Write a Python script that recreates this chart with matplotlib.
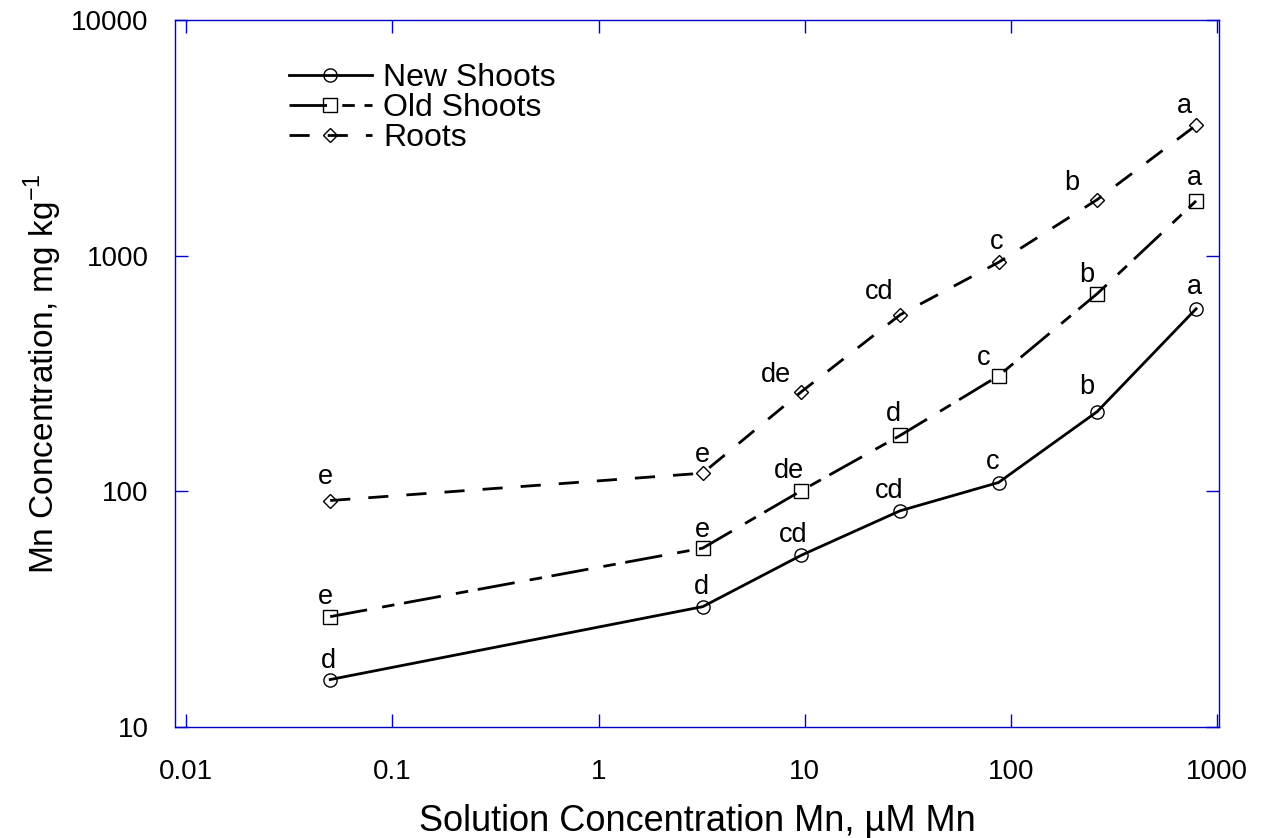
import matplotlib
matplotlib.use("Agg")
import matplotlib.pyplot as plt

plt.rcParams['font.family'] = ['Liberation Sans', 'DejaVu Sans']
plt.rcParams['lines.scale_dashes'] = False

# Solution Mn levels (uM)
solution_mn = [0.05, 3.2, 9.6, 29, 87, 262, 790]

# Tissue Mn concentration (mg/kg)
new_shoots = [15.9, 32.4, 53.5, 82.7, 109, 218, 595]
old_shoots = [29.4, 57.4, 100.5, 172.6, 309, 690, 1707]
roots = [91.4, 119.4, 264, 561, 937, 1730, 3575]

# Mean-separation letters
new_letters = ['d', 'd', 'cd', 'cd', 'c', 'b', 'a']
old_letters = ['e', 'e', 'de', 'd', 'c', 'b', 'a']
root_letters = ['e', 'e', 'de', 'cd', 'c', 'b', 'a']

x_ticks = [0.01, 0.1, 1, 10, 100, 1000]
x_tick_labels = ['0.01', '0.1', '1', '10', '100', '1000']
y_ticks = [10, 100, 1000, 10000]
y_tick_labels = ['10', '100', '1000', '10000']

DPI = 100
fig = plt.figure(figsize=(12.69, 8.38), dpi=DPI)
ax = fig.add_axes([175 / 1269, 1 - 727 / 838, 1044 / 1269, 707 / 838])

axis_blue = '#0000CC'
mk = dict(markerfacecolor='none', markeredgecolor='black', markeredgewidth=1.0)

ax.plot(solution_mn, new_shoots, color='black', lw=2.0, ls='-',
        marker='o', markersize=9.5, label='New Shoots', **mk)
ax.plot(solution_mn, old_shoots, color='black', lw=2.0,
        dashes=(27, 11, 9, 7), marker='s', markersize=10.5,
        label='Old Shoots', **mk)
ax.plot(solution_mn, roots, color='black', lw=2.0, dashes=(14.5, 13),
        marker='D', markersize=7.3, label='Roots', **mk)

ax.set_xscale('log')
ax.set_yscale('log')
ax.set_xlim(0.00884, 1020)
ax.set_ylim(10, 10000)

ax.xaxis.set_minor_locator(matplotlib.ticker.NullLocator())
ax.yaxis.set_minor_locator(matplotlib.ticker.NullLocator())
ax.set_xticks(x_ticks)
ax.set_xticklabels(x_tick_labels)
ax.set_yticks(y_ticks)
ax.set_yticklabels(y_tick_labels)

for sp in ax.spines.values():
    sp.set_color(axis_blue)
    sp.set_linewidth(1.0)
ax.tick_params(axis='both', which='major', direction='in', length=9.5,
               width=1.0, color=axis_blue, top=True, right=True,
               labelsize=20, labelcolor='black')
ax.tick_params(axis='x', pad=23)
ax.tick_params(axis='y', pad=19)

ax.set_xlabel('Solution Concentration Mn, \u00b5M Mn', fontsize=26, labelpad=14)
ax.set_ylabel('Mn Concentration, mg kg$^{\\mathregular{-1}}$', fontsize=24,
              labelpad=5)

# Letter offsets (pixels: left/right, up) from each marker
new_off = [(-2, 12), (-1, 13), (-8, 13), (-11, 13), (-6, 14), (-10, 18), (-2, 15)]
old_off = [(-5, 13), (0, 11), (-12, 13), (-7, 14), (-15, 11), (-10, 12), (-2, 16)]
root_off = [(-5, 17), (0, 11), (-25, 10), (-21, 16), (-2, 13), (-25, 10), (-12, 12)]

px2pt = 72.0 / DPI
for ys, letters, offs in ((new_shoots, new_letters, new_off),
                          (old_shoots, old_letters, old_off),
                          (roots, root_letters, root_off)):
    for xv, yv, lab, (dx, dy) in zip(solution_mn, ys, letters, offs):
        ax.annotate(lab, (xv, yv), xytext=(dx * px2pt, dy * px2pt),
                    textcoords='offset points', ha='center', va='baseline',
                    fontsize=19.5)

leg = ax.legend(loc='upper left', bbox_to_anchor=(0.109, 0.939),
                frameon=False, fontsize=23, handlelength=2.6,
                handletextpad=0.35, labelspacing=0.0, borderpad=0,
                borderaxespad=0, numpoints=1)

fig.savefig('out.png', dpi=DPI)
